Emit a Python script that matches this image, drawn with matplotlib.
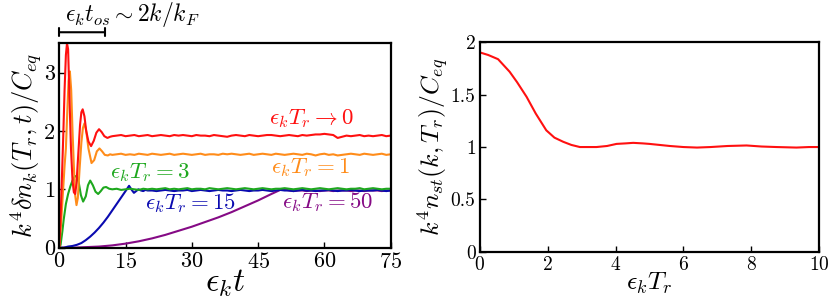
import matplotlib
matplotlib.use("Agg")
import matplotlib.pyplot as plt

plt.rcParams['font.family'] = 'serif'
plt.rcParams['font.serif'] = ['cmr10']
plt.rcParams['mathtext.fontset'] = 'cm'
plt.rcParams['axes.formatter.use_mathtext'] = True

# ---------------- data: left panel ----------------
T_LATE = list(range(12, 76))

red_t_early = [0, 0.3, 0.6, 0.9, 1.2, 1.5, 1.75, 2.0, 2.3, 2.65, 3.0, 3.3, 3.6, 3.9, 4.3, 4.7, 5.0, 5.3,
               5.7, 6.1, 6.6, 7.2, 7.8, 8.4, 9.0, 9.6, 10.2, 10.9, 11.5]
red_y_early = [0, 0.5, 1.2, 1.9, 2.7, 3.3, 3.5, 3.4, 2.6, 1.7, 1.15, 0.95, 0.92, 1.1, 1.6, 2.1, 2.32, 2.37,
               2.25, 2.0, 1.82, 1.74, 1.83, 1.97, 2.03, 1.98, 1.91, 1.88, 1.90]
red_y_late = [1.91, 1.92, 1.93, 1.91, 1.92, 1.93, 1.91, 1.92, 1.93, 1.91,
              1.92, 1.93, 1.92, 1.91, 1.93, 1.92, 1.93, 1.92, 1.91, 1.93,
              1.92, 1.92, 1.91, 1.93, 1.92, 1.91, 1.90, 1.92, 1.93, 1.92,
              1.91, 1.93, 1.92, 1.91, 1.92, 1.93, 1.93, 1.92, 1.91, 1.92,
              1.93, 1.92, 1.91, 1.93, 1.92, 1.93, 1.94, 1.94, 1.95, 1.94,
              1.93, 1.88, 1.90, 1.92, 1.91, 1.92, 1.93, 1.91, 1.92, 1.91,
              1.92, 1.93, 1.91, 1.92]

orange_t_early = [0, 0.4, 0.8, 1.2, 1.5, 1.8, 2.1, 2.4, 2.7, 3.0, 3.3, 3.6, 3.9, 4.2, 4.6, 5.0, 5.35, 5.7,
                  6.1, 6.6, 7.3, 7.9, 8.5, 9.1, 9.7, 10.3, 11.0, 11.5]
orange_y_early = [0, 0.4, 0.9, 1.4, 1.7, 2.3, 2.85, 3.02, 2.7, 2.0, 1.4, 0.9, 0.73, 0.85, 1.35, 1.8, 2.05, 2.13,
                  2.0, 1.7, 1.45, 1.5, 1.65, 1.70, 1.65, 1.59, 1.58, 1.60]
orange_y_late = [1.59, 1.60, 1.61, 1.59, 1.60, 1.59, 1.61, 1.60, 1.59, 1.61,
                 1.60, 1.59, 1.60, 1.61, 1.59, 1.60, 1.61, 1.60, 1.59, 1.60,
                 1.61, 1.59, 1.60, 1.60, 1.59, 1.61, 1.60, 1.61, 1.60, 1.59,
                 1.60, 1.61, 1.59, 1.60, 1.61, 1.60, 1.59, 1.61, 1.60, 1.59,
                 1.60, 1.61, 1.60, 1.59, 1.61, 1.60, 1.58, 1.60, 1.61, 1.59,
                 1.60, 1.58, 1.59, 1.60, 1.61, 1.60, 1.59, 1.61, 1.60, 1.59,
                 1.60, 1.61, 1.59, 1.60]

green_t_early = [0, 0.3, 0.7, 1.0, 1.5, 2.0, 2.5, 3.0, 3.5, 3.9, 4.4, 4.9, 5.4, 6.0, 6.5, 7.0, 7.6, 8.2,
                 8.8, 9.4, 10.0, 10.6, 11.3]
green_y_early = [0, 0.05, 0.28, 0.48, 0.75, 0.92, 1.05, 1.15, 1.22, 1.23, 1.12, 0.9, 0.79, 0.88, 1.07, 1.15,
                 1.07, 0.96, 0.92, 0.97, 1.03, 1.04, 1.01]
green_y_late = [1.00, 1.01, 0.99, 1.00, 1.01, 1.00, 0.99, 1.01, 1.00, 1.01,
                1.00, 1.01, 1.02, 1.00, 1.01, 1.00, 1.01, 1.02, 1.00, 1.01,
                1.01, 1.00, 1.02, 1.01, 1.00, 1.01, 1.02, 1.01, 1.00, 1.01,
                1.02, 1.01, 1.00, 1.01, 1.02, 1.01, 1.00, 1.01, 1.01, 1.02,
                1.01, 1.00, 1.01, 1.02, 1.01, 1.00, 1.01, 1.02, 1.01, 1.00,
                1.01, 1.02, 1.01, 1.00, 1.01, 1.01, 1.02, 1.00, 1.01, 1.02,
                1.01, 1.00, 1.01, 1.01]

blue_t_early = [0, 1, 2, 3, 4, 5, 6, 7, 8, 9, 10, 11, 12, 13, 14, 15, 15.8, 16.4, 16.9, 17.4, 17.9,
                18.5, 19, 19.5, 20]
blue_y_early = [0, 0.0, 0.02, 0.03, 0.05, 0.08, 0.13, 0.19, 0.26, 0.34, 0.43, 0.53, 0.64, 0.75, 0.86, 0.97,
                1.06, 0.99, 0.94, 0.97, 1.0, 0.98, 0.97, 0.99, 0.98]
blue_t_late = list(range(21, 76))
blue_y_late = [0.98, 0.97, 0.98, 0.99, 0.98, 0.97, 0.98, 0.98, 0.99, 0.97,
               0.98, 0.99, 0.98, 0.97, 0.98, 0.99, 0.98, 0.98, 0.97, 0.98,
               0.99, 0.98, 0.97, 0.98, 0.98, 0.99, 0.98, 0.97, 0.98, 0.99,
               0.98, 0.98, 0.97, 0.98, 0.99, 0.98, 0.98, 0.97, 0.98, 0.98,
               0.99, 0.98, 0.97, 0.98, 0.98, 0.99, 0.98, 0.97, 0.98, 0.98,
               0.98, 0.99, 0.98, 0.97, 0.98]

purple_t_early = [0, 3, 6, 9, 12, 15, 18, 21, 24, 27, 30, 33, 36, 39, 42, 45, 48, 50, 51]
purple_y_early = [0, 0.0, 0.01, 0.02, 0.04, 0.07, 0.11, 0.16, 0.22, 0.29, 0.36, 0.44, 0.52, 0.61, 0.71,
                  0.81, 0.92, 0.99, 1.0]
purple_t_late = list(range(52, 76))
purple_y_late = [0.98, 0.97, 0.98, 0.98, 0.97, 0.98, 0.98, 0.97, 0.98, 0.98, 0.97, 0.98,
                 0.98, 0.98, 0.97, 0.98, 0.98, 0.97, 0.98, 0.98, 0.98, 0.97, 0.98, 0.98]

left_xticks = [0, 15, 30, 45, 60, 75]
left_yticks = [0, 1, 2, 3]
left_yticklabels = ['0', '1', '2', '3']

# ---------------- data: right panel ----------------
tr = [0, 0.25, 0.54, 0.88, 1.1, 1.38, 1.65, 1.96, 2.2, 2.46, 2.7, 2.95, 3.2, 3.44, 3.75, 4.03, 4.3, 4.52,
      4.8, 5.0, 5.3, 5.6, 6.0, 6.4, 6.8, 7.3, 7.86, 8.3, 8.74, 9.33, 9.7, 10]
nst = [1.905, 1.88, 1.84, 1.72, 1.62, 1.48, 1.32, 1.16, 1.09, 1.05, 1.02, 1.0, 1.0, 1.0, 1.01, 1.03, 1.035,
       1.04, 1.035, 1.03, 1.02, 1.01, 1.0, 0.995, 1.0, 1.01, 1.015, 1.005, 1.0, 0.995, 1.0, 1.0]
right_xticks = [0, 2, 4, 6, 8, 10]
right_yticks = [0, 0.5, 1, 1.5, 2]
right_yticklabels = ['0', '0.5', '1', '1.5', '2']

C_RED = '#ff1010'
C_ORANGE = '#ff8c1a'
C_GREEN = '#1ea81e'
C_BLUE = '#0a0ab0'
C_PURPLE = '#850a85'

fig = plt.figure(figsize=(8.30, 3.01), dpi=100)
ax1 = fig.add_axes([0.0714, 0.177, 0.3993, 0.679])
ax2 = fig.add_axes([0.578, 0.164, 0.409, 0.695])

lw = 1.5
ax1.plot(purple_t_early + purple_t_late, purple_y_early + purple_y_late, color=C_PURPLE, lw=lw)
ax1.plot(blue_t_early + blue_t_late, blue_y_early + blue_y_late, color=C_BLUE, lw=lw)
ax1.plot(green_t_early + T_LATE, green_y_early + green_y_late, color=C_GREEN, lw=lw)
ax1.plot(orange_t_early + T_LATE, orange_y_early + orange_y_late, color=C_ORANGE, lw=lw)
ax1.plot(red_t_early + T_LATE, red_y_early + red_y_late, color=C_RED, lw=lw)

ax1.set_xlim(0, 75)
ax1.set_ylim(0, 3.5)
ax1.set_xticks(left_xticks)
ax1.set_yticks(left_yticks)
ax1.set_yticklabels(left_yticklabels)
ax1.tick_params(direction='in', labelsize=16, length=4, width=1, pad=3)
ax1.set_xlabel(r'$\epsilon_k t$', fontsize=24, labelpad=-3)
ax1.set_ylabel(r'$k^4\delta n_k(T_r,t)/C_{eq}$', fontsize=19, labelpad=0)

tfs = 16.5
ax1.text(47.5, 2.22, r'$\epsilon_k T_r \rightarrow 0$', color=C_RED, fontsize=tfs, va='center')
ax1.text(48.0, 1.38, r'$\epsilon_k T_r = 1$', color=C_ORANGE, fontsize=tfs, va='center')
ax1.text(11.5, 1.28, r'$\epsilon_k T_r = 3$', color=C_GREEN, fontsize=tfs, va='center')
ax1.text(19.4, 0.77, r'$\epsilon_k T_r = 15$', color=C_BLUE, fontsize=tfs, va='center')
ax1.text(50.5, 0.79, r'$\epsilon_k T_r = 50$', color=C_PURPLE, fontsize=tfs, va='center')

ax1.annotate('', xy=(0, 3.69), xytext=(10.3, 3.69), annotation_clip=False,
             arrowprops=dict(arrowstyle='|-|, widthA=0.3, widthB=0.3', color='black', lw=1.5,
                             shrinkA=0, shrinkB=0))
ax1.text(1.3, 4.0, r'$\epsilon_k t_{os} \sim 2k/k_F$', fontsize=17, va='center', ha='left', clip_on=False)

ax2.plot(tr, nst, color=C_RED, lw=lw)
ax2.set_xlim(0, 10)
ax2.set_ylim(0, 2)
ax2.set_xticks(right_xticks)
ax2.set_yticks(right_yticks)
ax2.set_yticklabels(right_yticklabels)
ax2.tick_params(direction='in', labelsize=14, length=4, width=1, pad=3)
ax2.set_xlabel(r'$\epsilon_k T_r$', fontsize=18.5, labelpad=-2)
ax2.set_ylabel(r'$k^4 n_{st}(k,T_r)/C_{eq}$', fontsize=18.5, labelpad=0)

for ax in (ax1, ax2):
    for s in ax.spines.values():
        s.set_linewidth(1.6)

fig.savefig('out.png', dpi=100)
